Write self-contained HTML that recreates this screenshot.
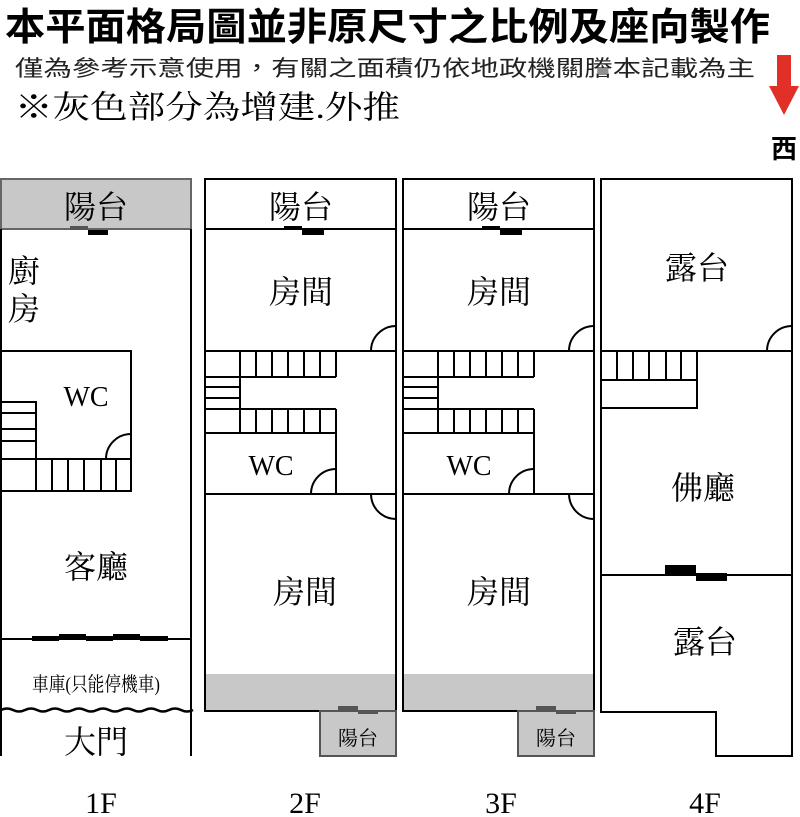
<!DOCTYPE html>
<html><head><meta charset="utf-8"><style>html,body{margin:0;padding:0;background:#fff}svg{display:block}</style></head><body>
<svg width="800" height="817" viewBox="0 0 800 817" xmlns="http://www.w3.org/2000/svg" font-family="'Liberation Serif','Noto Serif CJK SC',serif">
<text x="5" y="40" font-family="'Liberation Sans','Noto Sans CJK TC',sans-serif" font-weight="bold" font-size="38" textLength="765" lengthAdjust="spacingAndGlyphs">本平面格局圖並非原尺寸之比例及座向製作</text>
<text x="15" y="76" font-family="'Liberation Sans','Noto Sans CJK TC',sans-serif" font-size="22" fill="#222" textLength="740" lengthAdjust="spacingAndGlyphs">僅為參考示意使用，有關之面積仍依地政機關謄本記載為主</text>
<text x="15" y="118" font-size="32" textLength="385" lengthAdjust="spacingAndGlyphs">※灰色部分為增建.外推</text>
<polygon points="777,55 791,55 791,86 799,86 784,115 769,86 777,86" fill="#e03028"/>
<text x="784" y="158" text-anchor="middle" font-family="'Liberation Sans','Noto Sans CJK TC',sans-serif" font-weight="bold" font-size="26">西</text>

<g stroke="#000" stroke-width="2" fill="none">
<!-- 1F -->
<rect x="1" y="179" width="190" height="50" fill="#c8c8c8" stroke="#666"/>
<line x1="1" y1="229" x2="1" y2="756"/><line x1="191" y1="229" x2="191" y2="756"/>
<rect x="1" y="351" width="130" height="140"/>
<rect x="1" y="402" width="35" height="57"/>
<line x1="1" y1="413" x2="36" y2="413"/><line x1="1" y1="429" x2="36" y2="429"/><line x1="1" y1="441" x2="36" y2="441"/>
<line x1="1" y1="459" x2="131" y2="459"/>
<path d="M36 459V491M52 459V491M68 459V491M84 459V491M101 459V491M116 459V491"/>
<path d="M106 459A25 25 0 0 1 131 434"/>
<line x1="1" y1="639" x2="191" y2="639"/>
<path d="M1 710q6-3 12 0t12 0t12 0t12 0t12 0t12 0t12 0t12 0t12 0t12 0t12 0t12 0t12 0t12 0t12 0t12 0" stroke-width="2.5"/>
<!-- 2F & 3F -->
<g id="f2">
<rect x="205" y="179" width="191" height="532"/>
<line x1="205" y1="229" x2="396" y2="229"/>
<line x1="205" y1="351" x2="396" y2="351"/>
<line x1="205" y1="494" x2="396" y2="494"/>
<line x1="240" y1="351" x2="240" y2="433"/>
<line x1="240" y1="377" x2="336" y2="377"/><line x1="205" y1="409" x2="336" y2="409"/><line x1="205" y1="433" x2="336" y2="433"/>
<line x1="205" y1="377" x2="240" y2="377"/><line x1="205" y1="387" x2="240" y2="387"/><line x1="205" y1="398" x2="240" y2="398"/>
<path d="M256 351V377M272 351V377M288 351V377M304 351V377M320 351V377M336 351V377"/>
<path d="M256 409V433M272 409V433M288 409V433M304 409V433M320 409V433"/>
<line x1="336" y1="409" x2="336" y2="494"/>
<path d="M371 351A25 25 0 0 1 396 326"/>
<path d="M311 494A25 25 0 0 1 336 469"/>
<path d="M396 519A25 25 0 0 1 371 494"/>
<rect x="205" y="674" width="191" height="37" fill="#c8c8c8" stroke="none"/>
<rect x="205" y="179" width="191" height="532"/>
<rect x="320" y="711" width="76" height="45" fill="#c8c8c8" stroke="#555"/>
</g>
<use href="#f2" x="198"/>
<!-- 4F -->
<path d="M601 179H792V756H716V712H601Z"/>
<line x1="601" y1="351" x2="792" y2="351"/>
<line x1="601" y1="575" x2="792" y2="575"/>
<path d="M697 351V408H601"/>
<line x1="601" y1="380" x2="697" y2="380"/>
<path d="M617 351V380M633 351V380M649 351V380M666 351V380M681 351V380"/>
<path d="M767 351A25 25 0 0 1 792 326"/>
</g>
<!-- door marks -->
<g fill="#000">
<rect x="70" y="226" width="18" height="4" fill="#555"/><rect x="88" y="230" width="20" height="5"/>
<rect x="284" y="226" width="18" height="4"/><rect x="302" y="230" width="22" height="5"/>
<rect x="482" y="226" width="18" height="4"/><rect x="500" y="230" width="22" height="5"/>
<rect x="32" y="636" width="27" height="5"/><rect x="59" y="634" width="27" height="5"/><rect x="86" y="636" width="27" height="5"/><rect x="113" y="634" width="27" height="5"/><rect x="140" y="636" width="28" height="5"/>
<rect x="338" y="706" width="20" height="4" fill="#555"/><rect x="358" y="710" width="20" height="4" fill="#555"/>
<rect x="536" y="706" width="20" height="4" fill="#555"/><rect x="556" y="710" width="20" height="4" fill="#555"/>
<rect x="665" y="565" width="31" height="9"/><rect x="696" y="573" width="31" height="8"/>
</g>
<g font-size="32" text-anchor="middle">
<text x="96" y="218">陽台</text>
<text x="301" y="218">陽台</text><text x="499" y="218">陽台</text>
<text x="24" y="282">廚</text><text x="24" y="320">房</text>
<text x="301" y="303">房間</text><text x="499" y="303">房間</text>
<text x="96" y="578">客廳</text>
<text x="305" y="603">房間</text><text x="499" y="603">房間</text>
<text x="697" y="279">露台</text><text x="703" y="499">佛廳</text><text x="705" y="653">露台</text>
<text x="96" y="753">大門</text>
<text x="86" y="406" font-size="28">WC</text>
<text x="271" y="475" font-size="28">WC</text><text x="469" y="475" font-size="28">WC</text>
<text x="358" y="745" font-size="20">陽台</text><text x="556" y="745" font-size="20">陽台</text>
<text x="96" y="691" font-size="20" textLength="128" lengthAdjust="spacingAndGlyphs">車庫(只能停機車)</text>
<text x="101" y="813" font-size="30">1F</text><text x="305" y="813" font-size="30">2F</text>
<text x="501" y="813" font-size="30">3F</text><text x="705" y="813" font-size="30">4F</text>
</g>
</svg>
</body></html>
